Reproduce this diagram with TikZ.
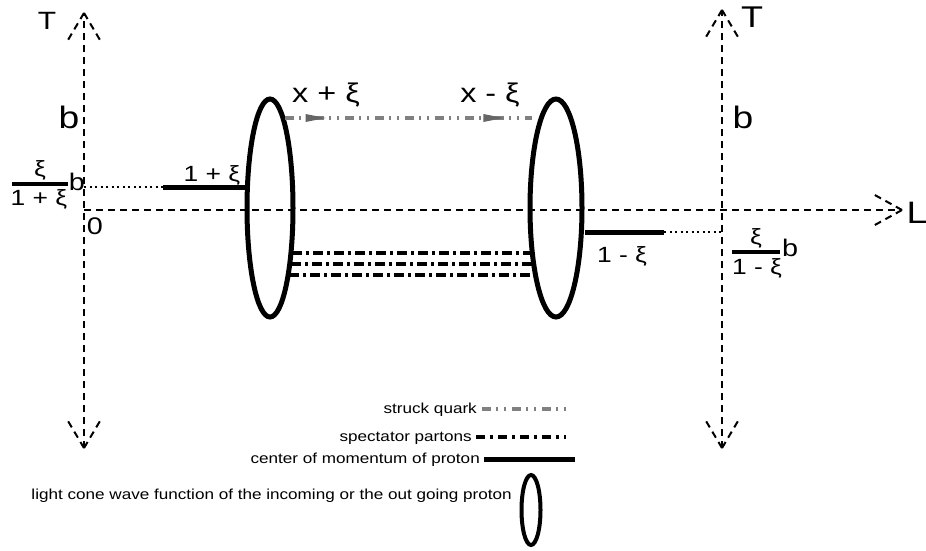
\documentclass[tikz,border=0pt]{standalone}
\usepackage{fontspec}
\setmainfont{Liberation Sans}[FakeStretch=1.2]
\newfontfamily\legfont{Liberation Sans}[FakeStretch=1.18]
\usetikzlibrary{shapes.geometric,decorations.markings}
\begin{document}
\begin{tikzpicture}[x=1pt,y=-1pt,
  axis/.style={line width=2pt, dash pattern=on 7pt off 5pt},
  cmline/.style={line width=5pt},
  dotline/.style={line width=2pt, dash pattern=on 2pt off 3.5pt},
  spect/.style={line width=3.5pt, dash pattern=on 10pt off 4pt on 3pt off 4pt},
  quark/.style={line width=3.5pt, black!50, dash pattern=on 9pt off 5pt on 2pt off 6pt on 2pt off 6pt},
  qarrow/.style={postaction={decorate}, decoration={markings,
     mark=at position #1 with {\fill[black!60] (-14pt,-4pt) -- (6pt,0pt) -- (-14pt,4pt) -- cycle;}}},
  proton/.style={ellipse, draw, line width=5pt, inner sep=0pt, minimum height=218pt},
  lbl/.style={inner sep=0pt, font=\fontsize{22}{26}\selectfont},
  big/.style={inner sep=0pt, font=\fontsize{31}{34}\selectfont},
  leg/.style={inner sep=0pt, font=\legfont\fontsize{14.5}{17}\selectfont}
]
\useasboundingbox (0,0) rectangle (926,550);

% axes
\coordinate (O) at (84,210);
\coordinate (Ttop) at (84,13);
\coordinate (Tbot) at (84,448);
\coordinate (Lend) at (902,210);
\coordinate (RTtop) at (722,10);
\coordinate (RTbot) at (722,448);
\draw[axis] (Tbot) -- (Ttop);
\draw[axis] (RTbot) -- (RTtop);
\draw[axis] (O) -- (Lend);
\draw[axis] (Ttop) -- ++(-16,27);
\draw[axis] (Ttop) -- ++(16,27);
\draw[axis] (Tbot) -- ++(-16,-27);
\draw[axis] (Tbot) -- ++(16,-27);
\draw[axis] (RTtop) -- ++(-16,27);
\draw[axis] (RTtop) -- ++(16,27);
\draw[axis] (RTbot) -- ++(-16,-27);
\draw[axis] (RTbot) -- ++(16,-27);
\draw[axis] (Lend) -- ++(-29,-16);
\draw[axis] (Lend) -- ++(-29,16);

\node[lbl, font=\fontsize{25}{28}\selectfont] (tl) at (47,21) {T};
\node[lbl, font=\fontsize{30}{33}\selectfont] (tr) at (752,17) {T};
\node[big] (Ll) at (917,213) {L};
\node[big] (bl) at (69,117) {b};
\node[big] (br) at (743,117) {b};
\node[lbl, font=\fontsize{24}{28}\selectfont] (zero) at (95,226) {0};

% protons
\node[proton, minimum width=46pt] (pin) at (270,208) {};
\node[proton, minimum width=52pt] (pout) at (556,208) {};

% center of momentum lines
\coordinate (mL) at (163,187);
\coordinate (mR) at (664,232);
\draw[dotline] (O |- mL) -- (mL);
\draw[cmline] (mL) -- (pin.west |- mL);
\draw[cmline] (pout.east |- mR) -- (mR);
\draw[dotline] (mR) -- (RTtop |- mR);
\node[lbl] (lpl) at (212,175) {1 + ξ};
\node[lbl] (lmi) at (622,256) {1 - ξ};

% struck quark
\coordinate (q1) at (285,118);
\coordinate (q2) at (532,118);
\draw[quark, qarrow=0.14] (q1) -- (q2);
\draw[draw=none, qarrow=0.86] (q1) -- (q2);
\node[lbl, font=\fontsize{27}{30}\selectfont] (xp) at (326,95) {x + ξ};
\node[lbl, font=\fontsize{27}{30}\selectfont] (xm) at (490,95) {x - ξ};

% spectators
\coordinate (s1a) at (292,253); \coordinate (s1b) at (531,253);
\coordinate (s2a) at (291,264); \coordinate (s2b) at (533,264);
\coordinate (s3a) at (289,275); \coordinate (s3b) at (535,275);
\draw[spect] (s1a) -- (s1b);
\draw[spect] (s2a) -- (s2b);
\draw[spect] (s3a) -- (s3b);

% left fraction
\coordinate (f1a) at (12,184); \coordinate (f1b) at (68,184);
\draw[line width=3.5pt] (f1a) -- (f1b);
\node[lbl] (f1n) at (40,170) {ξ};
\node[lbl] (f1d) at (39,199) {1 + ξ};
\node[lbl, font=\fontsize{24}{28}\selectfont] (f1bb) at (77,182) {b};

% right fraction
\coordinate (f2a) at (732,252); \coordinate (f2b) at (780,252);
\draw[line width=3.5pt] (f2a) -- (f2b);
\node[lbl] (f2n) at (756,238) {ξ};
\node[lbl] (f2d) at (757,268) {1 - ξ};
\node[lbl, font=\fontsize{24}{28}\selectfont] (f2bb) at (790,248) {b};

% legend
\node[leg, anchor=base east] (lg1) at (477,413) {struck quark};
\coordinate (lg1a) at (482,409); \coordinate (lg1b) at (567,409);
\draw[quark] (lg1a) -- (lg1b);
\node[leg, anchor=base east] (lg2) at (472,441) {spectator partons};
\coordinate (lg2a) at (476,437); \coordinate (lg2b) at (566,437);
\draw[spect, dash pattern=on 9pt off 5pt on 3pt off 5pt] (lg2a) -- (lg2b);
\node[leg, anchor=base east] (lg3) at (480,463) {center of momentum of proton};
\coordinate (lg3a) at (484,459); \coordinate (lg3b) at (575,459);
\draw[cmline] (lg3a) -- (lg3b);
\node[leg, anchor=base east] (lg4) at (512,499) {light cone wave function of the incoming or the out going proton};
\node[ellipse, draw, line width=4pt, inner sep=0pt, minimum width=19pt, minimum height=70pt] (lgell) at (531,510) {};
\end{tikzpicture}
\end{document}
